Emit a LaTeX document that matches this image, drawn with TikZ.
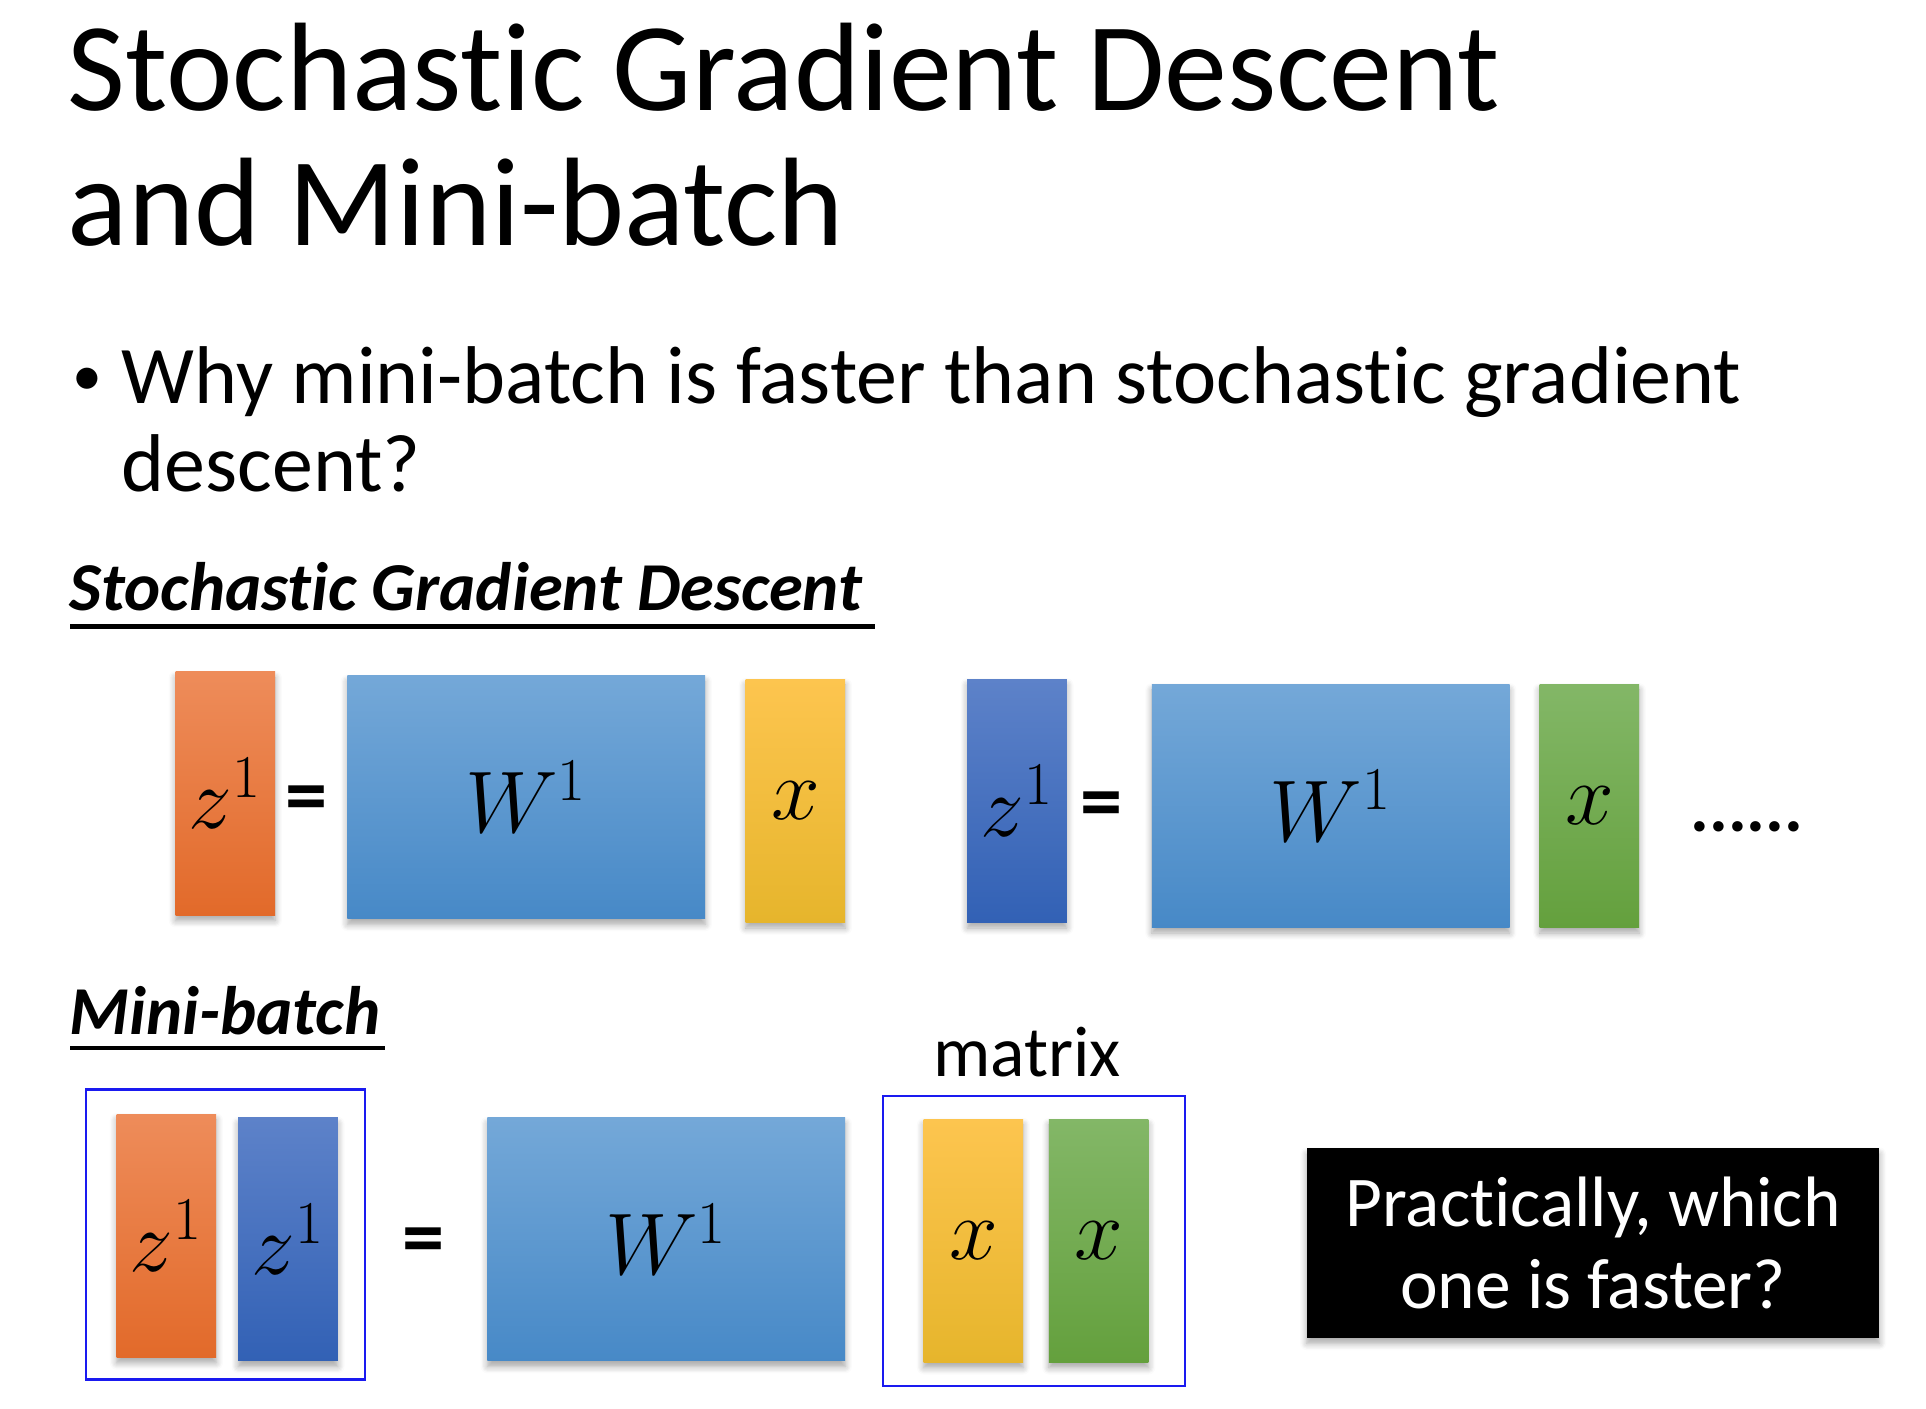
\documentclass[tikz,border=0pt]{standalone}
\usepackage{fontspec}
\setmainfont{Carlito}[RawFeature={-liga;-clig;-calt;-dlig}]
\usetikzlibrary{shadows.blur}
\definecolor{orT}{HTML}{EE8C5A}\definecolor{orB}{HTML}{E26A2A}
\definecolor{wT}{HTML}{74A8D8}\definecolor{wB}{HTML}{4789C7}
\definecolor{yeT}{HTML}{FDC54F}\definecolor{yeB}{HTML}{E6B52C}
\definecolor{bzT}{HTML}{5D82C9}\definecolor{bzB}{HTML}{3261B5}
\definecolor{grT}{HTML}{83B767}\definecolor{grB}{HTML}{64A03D}
\definecolor{outl}{HTML}{1A1AF0}
\begin{document}
\begin{tikzpicture}[x=0.01cm,y=-0.01cm,
  sh/.style={blur shadow={shadow xshift=0pt,shadow yshift=-1.6pt,shadow blur steps=6,shadow opacity=35}},
  mathtxt/.style={font=\fontsize{25.5}{30}\selectfont},
  vecbox/.style={sh,inner sep=0pt,minimum width=0.995cm,minimum height=2.43cm,mathtxt},
  wbox/.style={sh,inner sep=0pt,minimum width=3.575cm,minimum height=2.43cm,mathtxt,top color=wT,bottom color=wB},
  orbox/.style={vecbox,top color=orT,bottom color=orB},
  bzbox/.style={vecbox,top color=bzT,bottom color=bzB},
  yebox/.style={vecbox,top color=yeT,bottom color=yeB},
  grbox/.style={vecbox,top color=grT,bottom color=grB},
  eqsign/.style={font=\fontsize{24}{29}\selectfont\bfseries,inner sep=0pt},
  outlinebox/.style={draw=outl,line width=0.6pt,inner sep=0pt},
  heading/.style={font=\fontsize{19.5}{24}\selectfont\bfseries\itshape,anchor=base west,inner sep=0pt},
  uline/.style={line width=1.2pt}
]
\useasboundingbox (0,0) rectangle (1926,1408);
% title
\node[anchor=base west,inner sep=0pt,font=\fontsize{35.8}{43}\selectfont] (t1) at (67,110.6) {Stochastic Gradient Descent};
\node[anchor=base west,inner sep=0pt,font=\fontsize{35.8}{43}\selectfont] (t2) at (67,245.7) {and Mini-batch};
% bullet
\node[anchor=base west,inner sep=0pt,font=\fontsize{17}{20}\selectfont] (bul) at (72,395) {\textbullet};
\node[anchor=base west,inner sep=0pt,font=\fontsize{23.3}{28}\selectfont] (b1) at (121,403) {Why mini-batch is faster than stochastic gradient};
\node[anchor=base west,inner sep=0pt,font=\fontsize{23.3}{28}\selectfont] (b2) at (121,491.5) {descent?};
% SGD heading
\node[heading] (h1) at (69,610.6) {Stochastic Gradient Descent};
\coordinate (u1a) at (70,626.5); \coordinate (u1b) at (874.6,626.5);
\draw[uline] (u1a) -- (u1b);
% SGD row
\node[orbox] (zA) at (225.3,793.5) {$z^1$};
\node[eqsign] (eqA) at (307,805) {=};
\node[wbox] (WA) at (526.3,797.2) {$W^1$};
\node[yebox] (xA) at (795.4,800.8) {$x$};
\node[bzbox] (zB) at (1017,800.8) {$z^1$};
\node[eqsign] (eqB) at (1101.8,811) {=};
\node[wbox] (WB) at (1330.8,805.8) {$W^1$};
\node[grbox] (xB) at (1589.4,805.8) {$x$};
\node[anchor=base,inner sep=0pt,font=\fontsize{20}{24}\selectfont\bfseries] (dots) at (1747,831) {......};
% Mini-batch heading
\node[heading] (h2) at (69,1034.5) {Mini-batch};
\coordinate (u2a) at (70,1048); \coordinate (u2b) at (384.5,1048);
\draw[uline] (u2a) -- (u2b);
% mini-batch row
\node[outlinebox,minimum width=2.788cm,minimum height=2.899cm] (box1) at (225.4,1234.5) {};
\node[orbox] (zC) at (166.4,1235.7) {$z^1$};
\node[bzbox] (zD) at (288,1239.4) {$z^1$};
\node[eqsign] (eqC) at (423.8,1246.7) {=};
\node[wbox] (WC) at (666.3,1239.4) {$W^1$};
\node[anchor=base,inner sep=0pt,font=\fontsize{20.4}{25}\selectfont] (mat) at (1027,1076) {matrix};
\node[outlinebox,minimum width=3.021cm,minimum height=2.899cm] (box2) at (1034.2,1240.6) {};
\node[yebox] (xC) at (973.4,1240.6) {$x$};
\node[grbox] (xD) at (1098.7,1240.6) {$x$};
% question box
\node[sh,fill=black,inner sep=0pt,minimum width=5.723cm,minimum height=1.892cm,text=white,align=center,font=\fontsize{20.3}{23.5}\selectfont] (q) at (1593.1,1243.1) {Practically, which\\one is faster?};
\end{tikzpicture}
\end{document}
